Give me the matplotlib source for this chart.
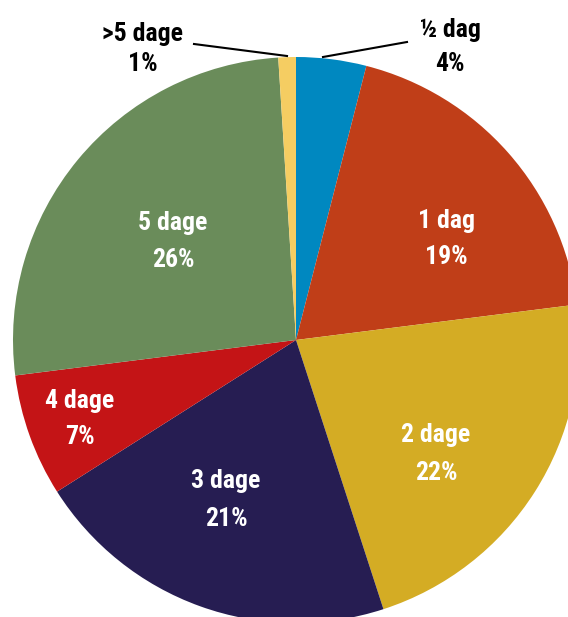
import matplotlib
matplotlib.use("Agg")
import matplotlib.pyplot as plt
from matplotlib import font_manager

categories = ["½ dag", "1 dag", "2 dage", "3 dage", "4 dage", "5 dage", ">5 dage"]
shares = [4, 19, 22, 21, 7, 26, 1]
colors = ["#0088C0", "#C03E18", "#D4AC24", "#261D52", "#C41416", "#6A8C5A", "#F5CD62"]

# label placement in pixels: x centre, baseline of name, baseline of %, colour
label_pos = {
    "½ dag": (450, 37, 71, "black"),
    "1 dag": (446, 228, 264, "white"),
    "2 dage": (436, 442, 480, "white"),
    "3 dage": (226, 488, 526, "white"),
    "4 dage": (80, 408, 444, "white"),
    "5 dage": (173, 230, 267, "white"),
    ">5 dage": (143, 41, 71, "black"),
}

# condensed bold face if one is around
names = {f.name for f in font_manager.fontManager.ttflist}
candidates = ["Liberation Sans Narrow", "Roboto Condensed", "Open Sans Condensed",
              "DejaVu Sans Condensed", "Noto Sans Condensed"]
found = [c for c in candidates if c in names]
plt.rcParams["font.family"] = found[:1] + ["DejaVu Sans"]

W, H = 568, 617
fig = plt.figure(figsize=(W / 100, H / 100), dpi=100)
ax = fig.add_axes([0, 0, 1, 1])
cx, cy, r = 296, 340, 283

ax.pie(shares, colors=colors, startangle=90, counterclock=False,
       center=(cx, H - cy), radius=r, wedgeprops=dict(linewidth=0))
ax.set_xlim(0, W)
ax.set_ylim(0, H)
ax.set_aspect("equal")
ax.axis("off")

for name, val in zip(categories, shares):
    x, y1, y2, c = label_pos[name]
    kw = dict(ha="center", va="baseline", color=c, fontsize=18.5,
              fontweight="bold", fontstretch="condensed")
    ax.text(x, H - y1, name, **kw)
    ax.text(x, H - y2, f"{val}%", **kw)

# leader lines for the small slices
ax.plot([323, 407], [H - 57, H - 42], color="black", lw=1.5)
ax.plot([287, 194], [H - 56, H - 44], color="black", lw=1.5)

fig.savefig("out.png", dpi=100)
